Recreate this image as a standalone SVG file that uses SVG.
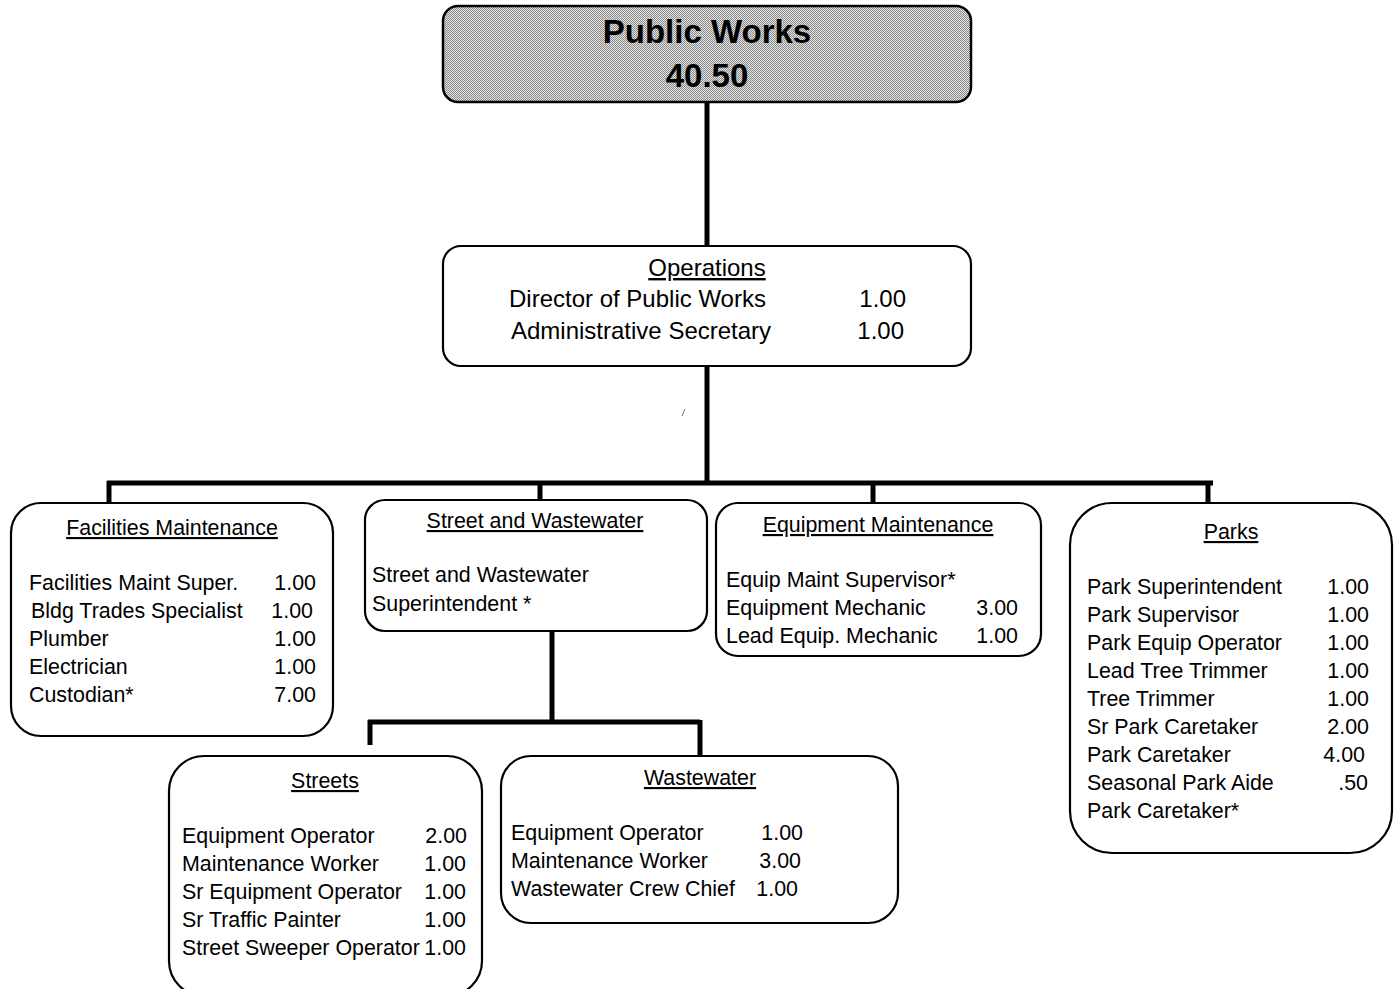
<svg xmlns="http://www.w3.org/2000/svg" width="1399" height="989" viewBox="0 0 1399 989">
  <defs>
    <!-- fine dithered grey fill for the department header -->
    <pattern id="dither" width="2" height="2" patternUnits="userSpaceOnUse">
      <rect width="2" height="2" fill="#e4e4e4"/>
      <rect width="1" height="1" fill="#8a8a8a"/>
      <rect x="1" y="1" width="1" height="1" fill="#8a8a8a"/>
    </pattern>
  </defs>
  <style>
    text { font-family: "Liberation Sans", Arial, sans-serif; font-size: 21.4px; fill: #000; }
    .box { fill: #fff; stroke: #000; stroke-width: 2.2; }
    .head { fill: url(#dither); stroke: #000; stroke-width: 2.5; }
    .big { font-size: 33px; font-weight: bold; text-anchor: middle; }
    .ttl { text-decoration: underline; text-anchor: middle; }
    .ops { font-size: 24px; }
    .num { text-anchor: end; }
    .link { fill: none; stroke: #000; stroke-width: 5; stroke-linecap: butt; stroke-linejoin: miter; }
  </style>

  <rect width="1399" height="989" fill="#fff"/>

  <!-- connectors -->
  <g id="connectors">
    <path class="link" d="M707 102 V246"/>
    <path class="link" d="M707 366 V483"/>
    <path class="link" d="M107 483 H1213"/>
    <path class="link" d="M109 481 V503"/>
    <path class="link" d="M540 481 V500"/>
    <path class="link" d="M873 481 V503"/>
    <path class="link" d="M1208 481 V503"/>
    <path class="link" d="M552 631 V722"/>
    <path class="link" d="M368 722 H700"/>
    <path class="link" d="M370 720 V745"/>
    <path class="link" d="M700 720 V756"/>
    <path d="M682 416 L685 409" stroke="#777" stroke-width="1" fill="none"/>
  </g>

  <!-- department header -->
  <g id="public-works">
    <rect class="head" x="443" y="6" width="528" height="96" rx="15"/>
    <text class="big" x="707" y="43">Public Works</text>
    <text class="big" x="707" y="87">40.50</text>
  </g>

  <!-- operations -->
  <g id="operations">
    <rect class="box" x="443" y="246" width="528" height="120" rx="18"/>
    <text class="ttl ops" x="707" y="276">Operations</text>
    <text class="ops" x="509" y="307">Director of Public Works</text>
    <text class="ops num" x="906" y="307">1.00</text>
    <text class="ops" x="511" y="339">Administrative Secretary</text>
    <text class="ops num" x="904" y="339">1.00</text>
  </g>

  <!-- facilities maintenance -->
  <g id="facilities-maintenance">
    <rect class="box" x="11" y="503" width="322" height="233" rx="30"/>
    <text class="ttl" x="172" y="535">Facilities Maintenance</text>
    <text x="29" y="590">Facilities Maint Super.</text>
    <text class="num" x="316" y="590">1.00</text>
    <text x="31" y="618">Bldg Trades Specialist</text>
    <text class="num" x="313" y="618">1.00</text>
    <text x="29" y="646">Plumber</text>
    <text class="num" x="316" y="646">1.00</text>
    <text x="29" y="674">Electrician</text>
    <text class="num" x="316" y="674">1.00</text>
    <text x="29" y="702">Custodian*</text>
    <text class="num" x="316" y="702">7.00</text>
  </g>

  <!-- street and wastewater -->
  <g id="street-wastewater">
    <rect class="box" x="365" y="500" width="342" height="131" rx="20"/>
    <text class="ttl" x="535" y="528">Street and Wastewater</text>
    <text x="372" y="582">Street and Wastewater</text>
    <text x="372" y="611">Superintendent *</text>
  </g>

  <!-- equipment maintenance -->
  <g id="equipment-maintenance">
    <rect class="box" x="716" y="503" width="325" height="153" rx="22"/>
    <text class="ttl" x="878" y="532">Equipment Maintenance</text>
    <text x="726" y="587">Equip Maint Supervisor*</text>
    <text x="726" y="615">Equipment Mechanic</text>
    <text class="num" x="1018" y="615">3.00</text>
    <text x="726" y="643">Lead Equip. Mechanic</text>
    <text class="num" x="1018" y="643">1.00</text>
  </g>

  <!-- parks -->
  <g id="parks">
    <rect class="box" x="1070" y="503" width="322" height="350" rx="42"/>
    <text class="ttl" x="1231" y="539">Parks</text>
    <text x="1087" y="594">Park Superintendent</text>
    <text class="num" x="1369" y="594">1.00</text>
    <text x="1087" y="622">Park Supervisor</text>
    <text class="num" x="1369" y="622">1.00</text>
    <text x="1087" y="650">Park Equip Operator</text>
    <text class="num" x="1369" y="650">1.00</text>
    <text x="1087" y="678">Lead Tree Trimmer</text>
    <text class="num" x="1369" y="678">1.00</text>
    <text x="1087" y="706">Tree Trimmer</text>
    <text class="num" x="1369" y="706">1.00</text>
    <text x="1087" y="734">Sr Park Caretaker</text>
    <text class="num" x="1369" y="734">2.00</text>
    <text x="1087" y="762">Park Caretaker</text>
    <text class="num" x="1365" y="762">4.00</text>
    <text x="1087" y="790">Seasonal Park Aide</text>
    <text class="num" x="1368" y="790">.50</text>
    <text x="1087" y="818">Park Caretaker*</text>
  </g>

  <!-- streets -->
  <g id="streets">
    <rect class="box" x="169" y="756" width="313" height="240" rx="35"/>
    <text class="ttl" x="325" y="788">Streets</text>
    <text x="182" y="843">Equipment Operator</text>
    <text class="num" x="467" y="843">2.00</text>
    <text x="182" y="871">Maintenance Worker</text>
    <text class="num" x="466" y="871">1.00</text>
    <text x="182" y="899">Sr Equipment Operator</text>
    <text class="num" x="466" y="899">1.00</text>
    <text x="182" y="927">Sr Traffic Painter</text>
    <text class="num" x="466" y="927">1.00</text>
    <text x="182" y="955">Street Sweeper Operator</text>
    <text class="num" x="466" y="955">1.00</text>
  </g>

  <!-- wastewater -->
  <g id="wastewater">
    <rect class="box" x="501" y="756" width="397" height="167" rx="30"/>
    <text class="ttl" x="700" y="785">Wastewater</text>
    <text x="511" y="840">Equipment Operator</text>
    <text class="num" x="803" y="840">1.00</text>
    <text x="511" y="868">Maintenance Worker</text>
    <text class="num" x="801" y="868">3.00</text>
    <text x="511" y="896">Wastewater Crew Chief</text>
    <text class="num" x="798" y="896">1.00</text>
  </g>
</svg>
